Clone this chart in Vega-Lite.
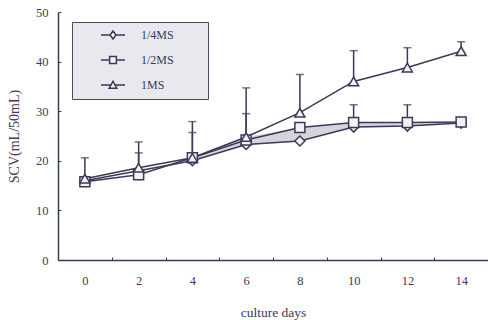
{
  "$schema": "https://vega.github.io/schema/vega-lite/v6.json",
  "width": 430,
  "height": 248,
  "autosize": {"type": "none"},
  "padding": {"left": 58, "top": 12, "right": 0, "bottom": 60},
  "background": "white",
  "config": {
    "view": {"stroke": null},
    "font": "Liberation Serif",
    "axis": {"labelFont": "Liberation Serif", "titleFont": "Liberation Serif", "labelColor": "#3a3a58", "titleColor": "#3a3a58", "domainColor": "#3a3a58", "tickColor": "#3a3a58", "domainWidth": 1.5, "grid": false, "titleFontWeight": "normal"}
  },
  "datasets": {
    "series": [
      {"day": 0, "series": "1/4MS", "scv": 16.0},
      {"day": 2, "series": "1/4MS", "scv": 18.0},
      {"day": 4, "series": "1/4MS", "scv": 20.0},
      {"day": 6, "series": "1/4MS", "scv": 23.3},
      {"day": 8, "series": "1/4MS", "scv": 24.0},
      {"day": 10, "series": "1/4MS", "scv": 26.8},
      {"day": 12, "series": "1/4MS", "scv": 27.0},
      {"day": 14, "series": "1/4MS", "scv": 27.6},
      {"day": 0, "series": "1/2MS", "scv": 15.8},
      {"day": 2, "series": "1/2MS", "scv": 17.2, "upper": 21.6},
      {"day": 4, "series": "1/2MS", "scv": 20.6, "upper": 25.7},
      {"day": 6, "series": "1/2MS", "scv": 24.2, "upper": 29.5},
      {"day": 8, "series": "1/2MS", "scv": 26.7},
      {"day": 10, "series": "1/2MS", "scv": 27.7, "upper": 31.3},
      {"day": 12, "series": "1/2MS", "scv": 27.7, "upper": 31.3},
      {"day": 14, "series": "1/2MS", "scv": 27.8},
      {"day": 0, "series": "1MS", "scv": 16.4, "upper": 20.6},
      {"day": 2, "series": "1MS", "scv": 18.6, "upper": 23.8},
      {"day": 4, "series": "1MS", "scv": 20.6, "upper": 27.9},
      {"day": 6, "series": "1MS", "scv": 24.8, "upper": 34.7},
      {"day": 8, "series": "1MS", "scv": 29.7, "upper": 37.4},
      {"day": 10, "series": "1MS", "scv": 36.0, "upper": 42.2},
      {"day": 12, "series": "1MS", "scv": 38.8, "upper": 42.8},
      {"day": 14, "series": "1MS", "scv": 42.1, "upper": 44.0}
    ],
    "band": [
      {"day": 4, "lo": 20.0, "hi": 20.6},
      {"day": 6, "lo": 23.3, "hi": 24.8},
      {"day": 8, "lo": 24.0, "hi": 26.7},
      {"day": 10, "lo": 26.8, "hi": 27.7},
      {"day": 12, "lo": 27.0, "hi": 27.7},
      {"day": 14, "lo": 27.6, "hi": 27.8}
    ]
  },
  "encoding": {
    "x": {
      "field": "day", "type": "ordinal",
      "scale": {"domain": [0, 2, 4, 6, 8, 10, 12, 14], "paddingInner": 0, "paddingOuter": 0},
      "axis": {"title": "culture days", "labelAngle": 0, "labelFontSize": 12.5, "titleFontSize": 13.5, "tickBand": "extent", "tickSize": -3, "labelPadding": 17, "titlePadding": 19}
    }
  },
  "resolve": {"scale": {"shape": "independent"}, "legend": {"shape": "independent"}},
  "layer": [
    {
      "data": {"name": "band"},
      "mark": {"type": "area", "color": "#d4d5dc", "opacity": 1},
      "encoding": {
        "y": {"field": "lo", "type": "quantitative", "scale": {"domain": [0, 50], "nice": false}},
        "y2": {"field": "hi"}
      }
    },
    {
      "data": {"name": "series"},
      "mark": {"type": "rule", "color": "#3a3a58", "strokeWidth": 1.5},
      "encoding": {
        "y": {"field": "scv", "type": "quantitative"},
        "y2": {"field": "upper"}
      }
    },
    {
      "data": {"name": "series"},
      "mark": {"type": "tick", "color": "#3a3a58", "size": 8, "thickness": 1.5, "orient": "horizontal"},
      "encoding": {
        "y": {"field": "upper", "type": "quantitative"}
      }
    },
    {
      "data": {"name": "series"},
      "mark": {"type": "line", "color": "#3a3a58", "strokeWidth": 1.5},
      "encoding": {
        "y": {"field": "scv", "type": "quantitative"},
        "detail": {"field": "series"}
      }
    },
    {
      "data": {"name": "series"},
      "mark": {"type": "point", "filled": true, "fill": "#f2f2f5", "stroke": "#3a3a58", "strokeWidth": 1.5, "size": 100, "opacity": 1},
      "encoding": {
        "y": {
          "field": "scv", "type": "quantitative",
          "scale": {"domain": [0, 50], "nice": false},
          "axis": {"title": "SCV(mL/50mL)", "values": [0, 5, 10, 15, 20, 25, 30, 35, 40, 45, 50], "labelFontSize": 12.5, "titleFontSize": 14, "tickSize": -3, "labelPadding": 13, "titlePadding": 14}
        },
        "shape": {
          "field": "series", "type": "nominal",
          "scale": {"domain": ["1/4MS", "1/2MS", "1MS"], "range": ["diamond", "square", "triangle-up"]},
          "legend": null
        }
      }
    },
    {
      "data": {"name": "series"},
      "transform": [{"filter": "datum.day < 0"}],
      "mark": {"type": "point", "filled": true, "fill": "#f2f2f5", "stroke": "#3a3a58", "strokeWidth": 1.3, "size": 64, "opacity": 1},
      "encoding": {
        "y": {"field": "scv", "type": "quantitative"},
        "shape": {
          "field": "series", "type": "nominal",
          "scale": {"domain": ["1/4MS", "1/2MS", "1MS"], "range": ["M-3,0H-0.75M0.75,0H3M0,-1L0.75,0L0,1L-0.75,0Z", "M-3,0H-0.85M0.85,0H3M-0.85,-0.85H0.85V0.85H-0.85Z", "M-3,0H-0.5M0.5,0H3M0,-0.9L0.95,0.8H-0.95Z"]},
          "legend": {
            "title": null,
            "orient": "none",
            "legendX": 14,
            "legendY": 10,
            "fillColor": "#e7e9ef",
            "strokeColor": "#4a4a60",
            "padding": 7,
            "symbolSize": 64,
            "symbolOffset": 28,
            "labelOffset": 22,
            "labelFontSize": 12,
            "labelFont": "Liberation Serif",
            "labelColor": "#3a3a58",
            "rowPadding": 11,
            "labelExpr": "datum.label + '\u2800\u2800\u2800'",
            "encode": {
              "symbols": {
                "update": {
                  "fill": {"value": "#f2f2f5"},
                  "stroke": {"value": "#3a3a58"},
                  "strokeWidth": {"value": 1.3},
                  "opacity": {"value": 1}
                }
              }
            }
          }
        }
      }
    }
  ]
}
